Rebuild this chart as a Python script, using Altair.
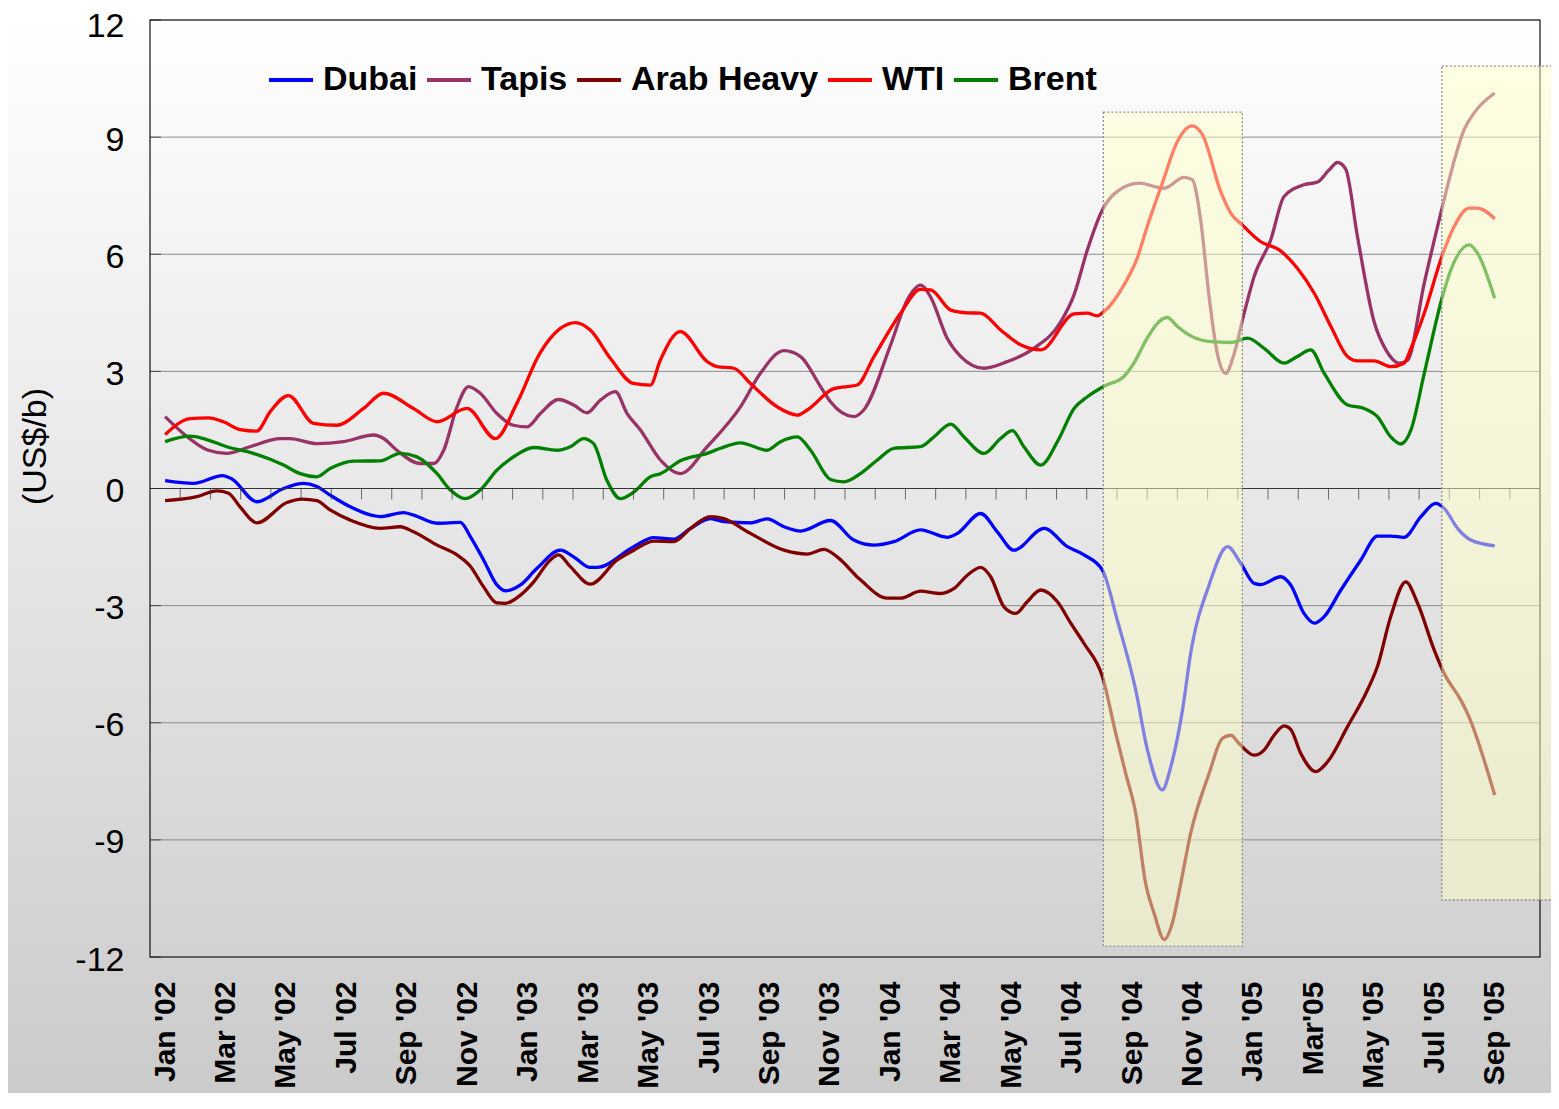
import json
import altair as alt
import pandas as pd

# ---------------- data ----------------
x_labels = ["Jan '02", "Mar '02", "May '02", "Jul '02", "Sep '02", "Nov '02",
            "Jan '03", "Mar '03", "May '03", "Jul '03", "Sep '03", "Nov '03",
            "Jan '04", "Mar '04", "May '04", "Jul '04", "Sep '04", "Nov '04",
            "Jan '05", "Mar'05", "May '05", "Jul '05", "Sep '05"]
y_ticks = [-12, -9, -6, -3, 0, 3, 6, 9, 12]

series_names = ["Dubai", "Tapis", "Arab Heavy", "WTI", "Brent"]
series_colors = ["#0000FF", "#993366", "#800000", "#FF0000", "#008000"]

# month index (0 = Jan '02) and spread value (US$/b)
dubai_m = [0, 0.94, 1.9, 2.2, 3.04, 3.92, 4.58, 5.02, 5.46, 6.13, 7.12, 7.89, 8.22, 9.0, 9.77,
           10.1, 10.54, 10.98, 11.26, 11.76, 12.3, 13.08, 13.52, 14.07, 14.29, 15.51, 16.17,
           16.83, 17.39, 18.05, 18.49, 19.37, 19.92, 20.48, 21.03, 22.02, 22.79, 23.46, 24.12,
           25.0, 25.88, 26.22, 26.99, 27.54, 28.09, 29.09, 29.86, 30.41, 31.02, 31.51, 32.12,
           32.51, 33.0, 33.28, 33.67, 33.94, 34.55, 35.16, 35.6, 36.04, 36.26, 36.92, 37.25,
           37.69, 38.03, 38.36, 38.91, 39.57, 40.12, 40.56, 41.0, 41.56, 42.05, 42.33, 42.77,
           43.21, 44.0]
dubai_v = [0.2, 0.13, 0.33, 0.25, -0.34, 0.0, 0.13, 0.05, -0.17, -0.47, -0.72, -0.62, -0.68,
           -0.89, -0.87, -1.23, -1.83, -2.47, -2.62, -2.47, -2.05, -1.58, -1.75, -2.02, -2.02,
           -1.49, -1.26, -1.30, -1.02, -0.77, -0.85, -0.88, -0.78, -0.98, -1.09, -0.82, -1.32,
           -1.45, -1.36, -1.06, -1.25, -1.15, -0.64, -1.11, -1.58, -1.02, -1.49, -1.70, -2.09,
           -3.37, -5.16, -6.70, -7.72, -7.13, -5.67, -4.22, -2.47, -1.49, -1.92, -2.43, -2.46,
           -2.26, -2.47, -3.20, -3.45, -3.28, -2.60, -1.83, -1.22, -1.22, -1.25, -0.72, -0.38,
           -0.51, -1.02, -1.32, -1.47]

tapis_m = [0, 0.6, 1.43, 2.04, 2.81, 3.81, 4.14, 5.02, 5.9, 6.9, 7.23, 7.67, 8.44, 8.89, 9.22,
           9.66, 10.04, 10.43, 10.98, 11.53, 11.98, 12.42, 13.02, 13.52, 13.96, 14.4, 14.9,
           15.29, 15.73, 16.39, 17.05, 17.94, 19.04, 19.7, 20.48, 21.03, 21.69, 22.02, 22.79,
           23.12, 24.01, 24.56, 25.0, 25.33, 25.88, 26.33, 27.1, 27.87, 28.75, 29.64, 30.08,
           30.52, 31.02, 31.51, 32.23, 33.06, 33.72, 33.99, 34.27, 34.55, 34.82, 35.1, 35.38,
           35.71, 36.04, 36.59, 37.03, 37.69, 38.14, 38.52, 38.8, 39.07, 39.46, 40.01, 40.4,
           40.84, 41.12, 41.67, 42.27, 42.55, 42.99, 43.32, 44.0]
tapis_v = [1.84, 1.41, 0.98, 0.90, 1.07, 1.28, 1.28, 1.15, 1.20, 1.37, 1.28, 0.98, 0.64, 0.64,
           0.98, 2.09, 2.61, 2.44, 1.92, 1.62, 1.58, 1.92, 2.28, 2.14, 1.94, 2.26, 2.48, 1.92,
           1.5, 0.73, 0.38, 1.07, 2.09, 2.95, 3.53, 3.38, 2.61, 2.22, 1.84, 2.01, 3.68, 4.83,
           5.21, 4.91, 3.85, 3.38, 3.08, 3.25, 3.59, 4.27, 4.96, 6.11, 7.14, 7.61, 7.82, 7.69,
           7.97, 7.91, 6.88, 4.91, 3.46, 2.95, 3.46, 4.49, 5.43, 6.37, 7.48, 7.78, 7.85, 8.16,
           8.35, 8.18, 6.45, 4.27, 3.55, 3.21, 3.29, 5.26, 7.22, 8.08, 9.19, 9.62, 10.13]

arab_m = [0, 1.05, 1.71, 2.1, 2.48, 3.04, 4.03, 4.53, 5.02, 5.46, 6.13, 7.12, 7.78, 8.22, 9.0,
          9.66, 10.1, 10.54, 10.98, 11.26, 11.76, 12.2, 12.75, 13.02, 13.41, 14.07, 14.96,
          15.51, 16.17, 16.83, 17.39, 18.05, 18.49, 19.37, 20.48, 21.25, 21.8, 22.24, 23.01,
          23.9, 24.34, 25.0, 25.66, 26.11, 26.55, 26.99, 27.32, 27.76, 28.15, 28.53, 28.98,
          29.53, 29.97, 30.41, 31.02, 31.46, 31.79, 32.12, 32.45, 32.73, 33.06, 33.33, 33.61,
          33.94, 34.55, 34.99, 35.27, 35.54, 36.04, 36.37, 36.7, 37.03, 37.25, 37.58, 38.08,
          38.47, 39.13, 39.79, 40.12, 40.56, 41.06, 41.45, 42.0, 42.33, 42.88, 43.1, 44.0]
arab_v = [-0.31, -0.21, -0.06, -0.12, -0.47, -0.88, -0.36, -0.27, -0.31, -0.55, -0.81, -1.02,
          -0.98, -1.11, -1.45, -1.70, -1.99, -2.52, -2.93, -2.94, -2.73, -2.39, -1.83, -1.70,
          -2.00, -2.45, -1.83, -1.58, -1.35, -1.36, -1.02, -0.72, -0.77, -1.15, -1.58, -1.68,
          -1.56, -1.75, -2.34, -2.81, -2.81, -2.63, -2.69, -2.56, -2.22, -2.02, -2.26, -3.03,
          -3.20, -2.90, -2.60, -2.90, -3.45, -3.97, -4.82, -6.27, -7.30, -8.32, -10.12, -10.88,
          -11.55, -11.14, -10.12, -8.83, -7.30, -6.40, -6.32, -6.53, -6.83, -6.70, -6.32, -6.08,
          -6.17, -6.78, -7.25, -7.00, -6.10, -5.16, -4.56, -3.28, -2.39, -2.94, -4.14, -4.74,
          -5.42, -5.76, -7.85]

wti_m = [0, 0.83, 1.43, 1.93, 2.48, 3.03, 3.48, 4.08, 4.91, 5.68, 6.57, 7.23, 8.22, 9.0, 9.99,
         10.93, 11.64, 12.4, 13.08, 13.58, 14.07, 14.74, 15.5, 16.06, 16.39, 17.05, 17.94,
         18.27, 18.82, 19.37, 20.26, 20.92, 21.25, 22.13, 22.9, 23.46, 24.34, 25.0, 25.33, 26.0,
         26.55, 26.99, 27.65, 28.31, 28.98, 30.08, 30.52, 30.85, 31.07, 31.73, 32.17, 32.5,
         33.0, 33.5, 33.99, 34.33, 34.93, 35.27, 35.65, 36.26, 36.87, 37.47, 38.03, 38.58,
         39.13, 39.46, 40.01, 40.56, 41.0, 41.23, 41.67, 42.27, 42.66, 43.16, 43.43, 44.0]
wti_v = [1.38, 1.79, 1.81, 1.71, 1.51, 1.47, 1.97, 2.38, 1.67, 1.62, 2.05, 2.44, 2.05, 1.71,
         2.05, 1.28, 2.18, 3.46, 4.10, 4.25, 4.06, 3.33, 2.69, 2.65, 3.29, 4.02, 3.25, 3.12,
         3.08, 2.69, 2.09, 1.88, 2.01, 2.56, 2.65, 3.38, 4.49, 5.10, 5.09, 4.57, 4.50, 4.49,
         4.06, 3.68, 3.55, 4.47, 4.49, 4.42, 4.53, 5.21, 5.90, 6.71, 7.82, 8.89, 9.29, 9.06,
         7.61, 7.05, 6.75, 6.32, 6.11, 5.64, 5.0, 4.15, 3.38, 3.27, 3.27, 3.12, 3.21, 3.59,
         4.49, 5.98, 6.71, 7.18, 7.18, 6.91]

brent_m = [0, 0.83, 1.27, 2.04, 2.92, 3.92, 4.47, 5.02, 5.46, 6.24, 7.12, 7.78, 8.33, 9.0,
           9.44, 9.93, 10.43, 10.98, 11.53, 12.2, 12.97, 13.41, 13.85, 14.18, 14.62, 15.07,
           15.51, 16.06, 16.39, 17.05, 17.94, 18.38, 19.04, 19.92, 20.37, 20.92, 21.36, 22.02,
           22.46, 23.01, 23.57, 24.12, 25.0, 25.44, 26.0, 26.44, 27.1, 27.65, 28.04, 28.42,
           28.98, 29.53, 30.08, 30.52, 31.07, 31.73, 32.06, 32.5, 32.84, 33.17, 33.5, 33.99,
           34.6, 35.27, 35.82, 36.37, 37.03, 37.47, 37.91, 38.36, 39.13, 39.68, 40.12, 40.56,
           40.89, 41.23, 41.67, 42.27, 42.55, 43.16, 43.43, 44.0]
brent_v = [1.20, 1.34, 1.28, 1.07, 0.90, 0.60, 0.38, 0.30, 0.51, 0.70, 0.71, 0.90, 0.81, 0.38,
           -0.04, -0.26, -0.04, 0.47, 0.81, 1.05, 0.98, 1.07, 1.28, 1.15, 0.21, -0.26, -0.09,
           0.30, 0.38, 0.71, 0.90, 1.03, 1.17, 0.98, 1.20, 1.32, 0.98, 0.23, 0.17, 0.38, 0.73,
           1.03, 1.07, 1.32, 1.65, 1.32, 0.90, 1.28, 1.48, 1.07, 0.60, 1.20, 2.05, 2.35, 2.62,
           2.87, 3.21, 3.85, 4.23, 4.38, 4.15, 3.89, 3.76, 3.74, 3.85, 3.59, 3.21, 3.38, 3.55,
           2.95, 2.14, 2.05, 1.84, 1.32, 1.14, 1.50, 2.95, 4.91, 5.60, 6.24, 6.03, 4.87]

# highlighted periods (month index / US$/b)
hl_x1 = [31.05, 42.25]
hl_x2 = [35.65, 46.8]
hl_y1 = [9.64, 10.82]
hl_y2 = [-11.72, -10.54]

# ---------------- build ----------------
W, H = 1390, 937
PAD = {"left": 142, "top": 12, "right": 11, "bottom": 136}
FONT = "Liberation Sans"

rows = []
for name, ms, vs in zip(series_names,
                        [dubai_m, tapis_m, arab_m, wti_m, brent_m],
                        [dubai_v, tapis_v, arab_v, wti_v, brent_v]):
    for m, v in zip(ms, vs):
        rows.append({"series": name, "m": m, "v": v})
df = pd.DataFrame(rows)

xscale = alt.Scale(domain=[-0.5, 45.5], nice=False, zero=False)
yscale = alt.Scale(domain=[-12, 12], nice=False, zero=False)

label_expr = json.dumps(x_labels) + "[round(datum.value / 2)]"

xaxis = alt.Axis(values=list(range(0, 45, 2)), labelExpr=label_expr, labelAngle=270,
                 labelFont=FONT, labelFontSize=30, labelFontWeight="bold", labelColor="black",
                 labelPadding=24, labelOverlap=False, labelFlush=False, labelLimit=300,
                 ticks=False, domain=False, grid=False, title=None, zindex=1)
yaxis = alt.Axis(values=y_ticks, labelExpr="datum.value + ''", labelFont=FONT,
                 labelFontSize=34, labelColor="black",
                 labelOffset={"condition": {"test": "datum.value === 12", "value": 6},
                              "value": 3},
                 labelPadding=26, ticks=False, domain=False, grid=False,
                 title="(US$/b)", titleFont=FONT, titleFontSize=34, titleFontWeight="normal",
                 titleColor="black", titleAngle=270, titleX=-115, titleY=426,
                 titleAlign="center", titleBaseline="middle", zindex=1)

one = pd.DataFrame({"a": [0]})
grad = alt.LinearGradient(gradient="linear",
                          stops=[alt.GradientStop(color="#ffffff", offset=0),
                                 alt.GradientStop(color="#cbcbcb", offset=1)],
                          x1=0, x2=0, y1=0, y2=1)
bg = alt.Chart(one).mark_rect(fill=grad).encode(
    x=alt.value(-PAD["left"]), x2=alt.value(W + PAD["right"]),
    y=alt.value(-PAD["top"]), y2=alt.value(H + PAD["bottom"]))

grid_df = pd.DataFrame({"v": [t for t in y_ticks if t != 0]})
grid = alt.Chart(grid_df).mark_rule(color="#8c8c8c", strokeWidth=1).encode(
    y=alt.Y("v:Q", scale=yscale, axis=yaxis))

lines = alt.Chart(df).mark_line(strokeWidth=3.3, interpolate="monotone").encode(
    x=alt.X("m:Q", scale=xscale, axis=xaxis),
    y=alt.Y("v:Q", scale=yscale, axis=yaxis),
    color=alt.Color("series:N",
                    scale=alt.Scale(domain=series_names, range=series_colors),
                    legend=alt.Legend(orient="none", legendX=117, legendY=36,
                                      direction="horizontal", title=None,
                                      symbolType="stroke", symbolSize=1936,
                                      symbolStrokeWidth=4, labelFont=FONT,
                                      labelFontSize=34, labelFontWeight="bold",
                                      labelColor="black", labelOffset=8,
                                      labelLimit=400, columnPadding=1)),
)

zero = alt.Chart(one).mark_rule(color="#333333", strokeWidth=1.2).encode(
    y=alt.datum(0, scale=yscale, axis=yaxis))

xt_df = pd.DataFrame({"m": [i + 0.5 for i in range(45)]})
xticks = alt.Chart(xt_df).mark_tick(orient="vertical", size=11, thickness=1,
                                    color="#333333", yOffset=5.5).encode(
    x=alt.X("m:Q", scale=xscale, axis=xaxis), y=alt.datum(0, axis=yaxis))

yt_df = pd.DataFrame({"v": y_ticks})
yticks = alt.Chart(yt_df).mark_tick(orient="horizontal", size=11, thickness=1,
                                    color="#222222", xOffset=5.5).encode(
    y=alt.Y("v:Q", scale=yscale, axis=yaxis), x=alt.datum(-0.5, axis=xaxis))

frame = alt.Chart(one).mark_rect(filled=False, stroke="#111111", strokeWidth=1.2).encode(
    x=alt.value(0), x2=alt.value(W), y=alt.value(0), y2=alt.value(H))

hl_df = pd.DataFrame({"x1": hl_x1, "x2": hl_x2, "y1": hl_y1, "y2": hl_y2})
hl = alt.Chart(hl_df).mark_rect(fill="#FFFFC8", fillOpacity=0.5, stroke="#8f8f8f",
                                strokeWidth=1.3, strokeDash=[2, 2]).encode(
    x=alt.X("x1:Q", scale=xscale, axis=xaxis), x2="x2:Q",
    y=alt.Y("y1:Q", scale=yscale, axis=yaxis), y2="y2:Q")

chart = alt.layer(bg, grid, lines, zero, xticks, yticks, frame, hl).properties(
    width=W, height=H,
    autosize=alt.AutoSizeParams(type="none"),
    padding=PAD,
).configure_view(stroke=None).configure(font=FONT)

chart.save("out.html", embed_options={"renderer": "svg", "actions": False})
